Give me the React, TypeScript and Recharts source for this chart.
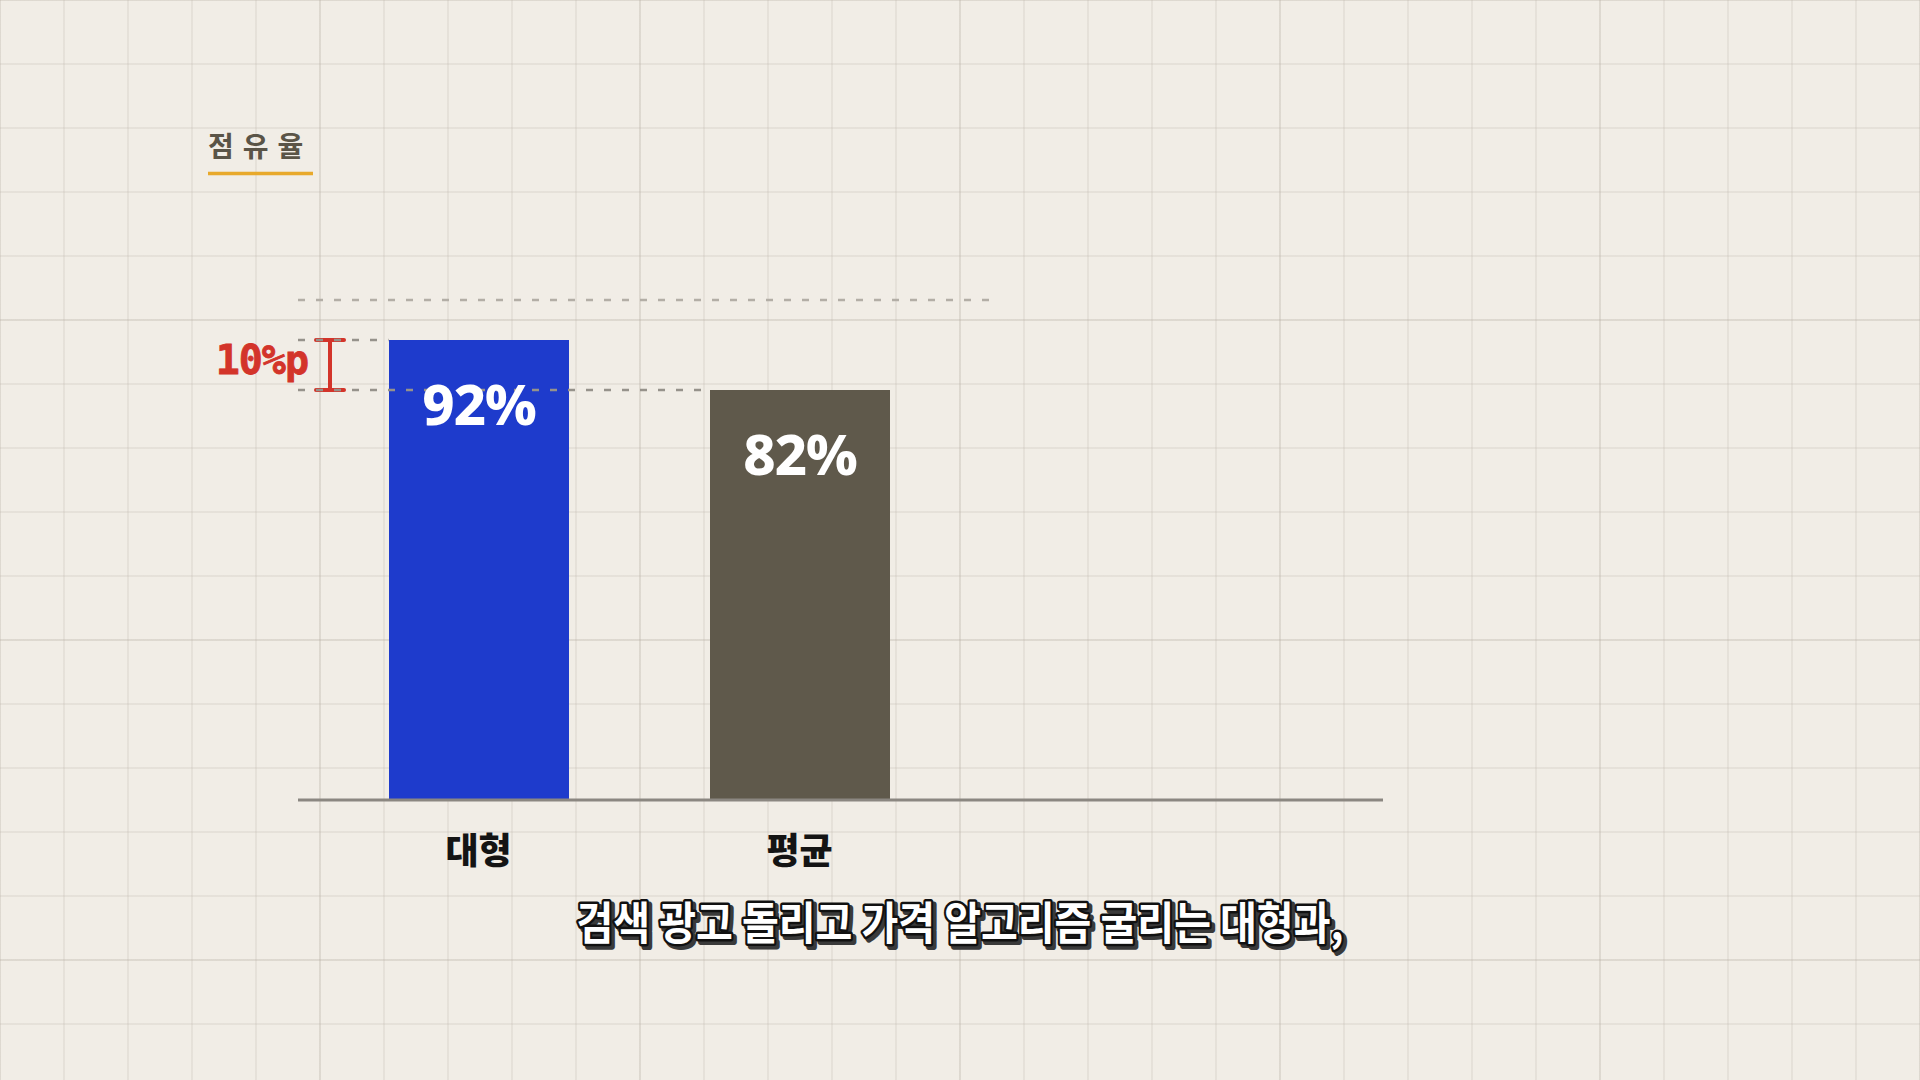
import React from "react";
import { BarChart, Bar, XAxis, YAxis, Cell, LabelList, ReferenceLine, ReferenceArea } from "recharts";

const categories = ["대형", "평균"];
const shareValues = [92, 82];
const valueLabels = ["92%", "82%"];
const barColors = ["#1e3bcc", "#5f594b"];
const chartTitle = "점유율";
const gapLabel = "10%p";
const maxValue = 100;
const subtitle = "검색 광고 돌리고 가격 알고리즘 굴리는 대형과,";

const data = categories.map((c, i) => ({ name: c, value: shareValues[i], label: valueLabels[i] }));

const W = 1920;
const H = 1080;
const PAD_LEFT = 20;
const PAD_RIGHT = 423;
const BAR_SIZE = 180;

const bgStyle: React.CSSProperties = {
  position: "fixed",
  left: 0,
  top: 0,
  width: W,
  height: H,
  backgroundColor: "#f1ede6",
  backgroundImage: [
    "linear-gradient(to right, rgba(180,172,160,0.16) 0px, rgba(180,172,160,0.16) 2px, transparent 2px)",
    "linear-gradient(to bottom, rgba(180,172,160,0.16) 0px, rgba(180,172,160,0.16) 2px, transparent 2px)",
    "linear-gradient(to right, rgba(195,188,177,0.24) 0px, rgba(195,188,177,0.24) 2px, transparent 2px)",
    "linear-gradient(to bottom, rgba(195,188,177,0.24) 0px, rgba(195,188,177,0.24) 2px, transparent 2px)",
  ].join(","),
  backgroundSize: "320px 320px, 320px 320px, 64px 64px, 64px 64px",
  backgroundPosition: "-1px -1px, -1px -1px, -1px -1px, -1px -1px",
  overflow: "hidden",
};

const ValueLabel = (props: any) => {
  const { x, y, width, value } = props;
  return (
    <text
      x={x + width / 2}
      y={y + 63}
      textAnchor="middle"
      dominantBaseline="central"
      fill="#ffffff"
      fontFamily="'Noto Sans', 'Open Sans', sans-serif"
      fontWeight={800}
      fontSize={56}
      letterSpacing={-1}
    >
      {value}
    </text>
  );
};

const CategoryTick = (props: any) => {
  const { x, y, payload } = props;
  return (
    <text
      x={x}
      y={y + 40}
      textAnchor="middle"
      dominantBaseline="central"
      fill="#141414"
      fontFamily="'Noto Sans CJK KR', sans-serif"
      fontWeight={900}
      fontSize={36}
    >
      {payload.value}
    </text>
  );
};

const dashedShape = (extent: (x1: number, x2: number) => number, color: string) => (props: any) => {
  const { x1, y1 } = props;
  const x2 = props.x2;
  return (
    <line
      x1={x1}
      y1={y1}
      x2={extent(x1, x2)}
      y2={y1}
      stroke={color}
      strokeWidth={2.5}
      strokeDasharray="7 11"
    />
  );
};

const band = (x1: number, x2: number) => (x2 - x1 - PAD_LEFT - PAD_RIGHT) / categories.length;
const barLeft = (i: number) => (x1: number, x2: number) =>
  x1 + PAD_LEFT + band(x1, x2) * i + (band(x1, x2) - BAR_SIZE) / 2;

const GapMarker = (props: any) => {
  const { x, y, height } = props;
  const cx = x + 12;
  const red = "#d3342a";
  return (
    <g>
      <line x1={cx} y1={y} x2={cx} y2={y + height} stroke={red} strokeWidth={4} />
      <line x1={cx - 14} y1={y} x2={cx + 14} y2={y} stroke={red} strokeWidth={4} strokeLinecap="round" />
      <line x1={cx - 14} y1={y + height} x2={cx + 14} y2={y + height} stroke={red} strokeWidth={4} strokeLinecap="round" />
      <text
        x={x - 10}
        y={y + height / 2 - 5}
        textAnchor="end"
        dominantBaseline="central"
        fill={red}
        stroke={red}
        strokeWidth={0.8}
        fontFamily="'DejaVu Sans Mono', monospace"
        fontWeight={700}
        fontSize={40}
        letterSpacing={-1}
      >
        {gapLabel}
      </text>
    </g>
  );
};

export default function App() {
  return (
    <div style={bgStyle}>
      <svg width={W} height={H} style={{ position: "absolute", left: 0, top: 0 }}>
        <text
          x={208}
          y={145}
          dominantBaseline="central"
          fill="#5a5447"
          fontFamily="'Noto Sans CJK KR', sans-serif"
          fontWeight={700}
          fontSize={28}
          letterSpacing={9}
        >
          {chartTitle}
        </text>
        <line x1={208} y1={173.5} x2={313} y2={173.5} stroke="#e8a92b" strokeWidth={3.5} />
      </svg>
      <div style={{ position: "absolute", left: 0, top: 0 }}>
        <BarChart
          width={W}
          height={H}
          data={data}
          margin={{ top: 300, right: W - 1383, bottom: 220, left: 298 }}
        >
          <YAxis hide width={0} domain={[0, maxValue]} type="number" />
          <XAxis
            dataKey="name"
            height={60}
            padding={{ left: PAD_LEFT, right: PAD_RIGHT }}
            axisLine={{ stroke: "#8b8781", strokeWidth: 3 }}
            tickLine={false}
            tick={<CategoryTick />}
            interval={0}
          />
          <ReferenceLine
            y={maxValue}
            ifOverflow="visible"
            shape={dashedShape((x1) => x1 + 694, "#b3aea6")}
          />
          <Bar dataKey="value" barSize={BAR_SIZE} isAnimationActive={false}>
            {data.map((d, i) => (
              <Cell key={d.name} fill={barColors[i]} />
            ))}
            <LabelList dataKey="label" content={<ValueLabel />} />
          </Bar>
          <ReferenceLine
            y={shareValues[0]}
            ifOverflow="visible"
            shape={dashedShape(barLeft(0), "#96928b")}
          />
          <ReferenceLine
            y={shareValues[1]}
            ifOverflow="visible"
            shape={dashedShape(barLeft(1), "#96928b")}
          />
          <ReferenceArea
            y1={shareValues[1]}
            y2={shareValues[0]}
            ifOverflow="visible"
            shape={<GapMarker />}
          />
        </BarChart>
      </div>
      <svg width={W} height={H} style={{ position: "absolute", left: 0, top: 0, pointerEvents: "none" }}>
        <text
          x={963}
          y={923}
          textAnchor="middle"
          dominantBaseline="central"
          fill="#3a3a3a"
          fontFamily="'Noto Sans CJK KR', sans-serif"
          fontWeight={700}
          fontSize={45}
          textLength={767}
          lengthAdjust="spacingAndGlyphs"
          stroke="#3a3a3a"
          strokeWidth={6}
          strokeLinejoin="round"
        >
          {subtitle}
        </text>
        <text
          x={960}
          y={920}
          textAnchor="middle"
          dominantBaseline="central"
          fill="#ffffff"
          fontFamily="'Noto Sans CJK KR', sans-serif"
          fontWeight={700}
          fontSize={45}
          textLength={767}
          lengthAdjust="spacingAndGlyphs"
          stroke="#111111"
          strokeWidth={5}
          strokeLinejoin="round"
          style={{ paintOrder: "stroke" }}
        >
          {subtitle}
        </text>
      </svg>
    </div>
  );
}
